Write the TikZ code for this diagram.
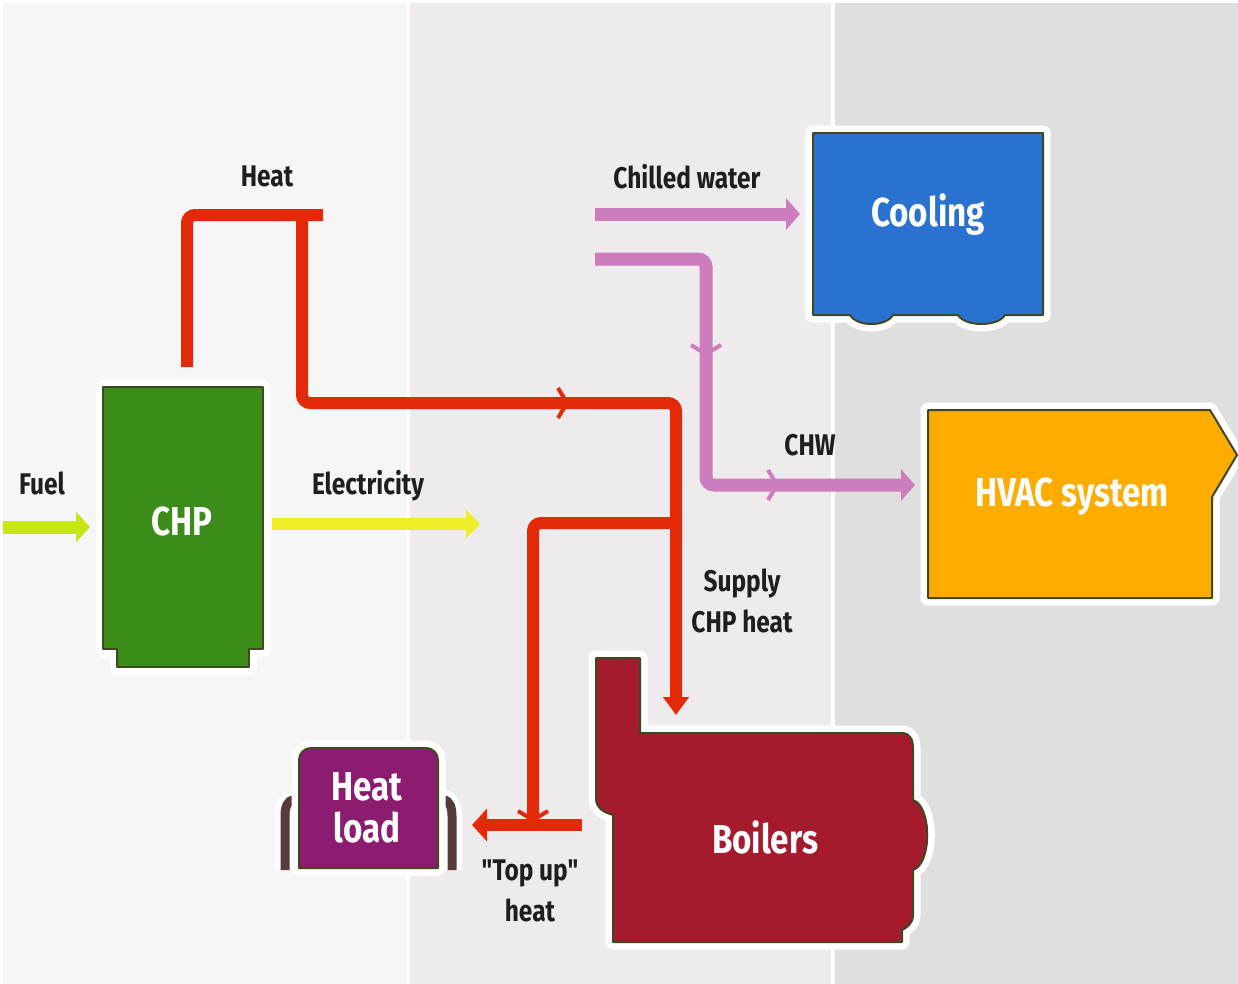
\documentclass[tikz,border=0pt]{standalone}
\usepackage{fontspec}
\newfontfamily\dinfont{Fira Sans}[FakeStretch=0.82]
\usetikzlibrary{arrows.meta}
\definecolor{panelA}{RGB}{246,246,246}
\definecolor{panelB}{RGB}{239,235,236}
\definecolor{panelC}{RGB}{224,223,224}
\definecolor{unitedge}{RGB}{62,72,32}
\definecolor{chpgreen}{RGB}{60,140,25}
\definecolor{coolblue}{RGB}{42,114,208}
\definecolor{hvacorange}{RGB}{255,172,0}
\definecolor{boilerred}{RGB}{166,26,46}
\definecolor{loadpurple}{RGB}{140,28,112}
\definecolor{handlegrey}{RGB}{88,58,62}
\definecolor{heatred}{RGB}{226,42,8}
\definecolor{chwpink}{RGB}{205,125,190}
\definecolor{fuellime}{RGB}{200,230,20}
\definecolor{elecyellow}{RGB}{240,238,40}
\definecolor{labelgrey}{RGB}{30,30,30}
\begin{document}
\begin{tikzpicture}[x=0.02cm, y=-0.02cm]
\tikzset{
  unit/.style={draw=unitedge, line width=0.04cm, line join=round, preaction={draw=white, line width=0.3cm, line join=round}},
  boxtext/.style={text=white, font=\dinfont\bfseries\fontsize{23}{24}\selectfont, align=center, inner sep=0pt},
  flowtext/.style={text=labelgrey, font=\dinfont\bfseries\fontsize{17}{23}\selectfont, align=center, inner sep=0pt},
  pipe/.style={line width=0.24cm, rounded corners=0.16cm},
  heatpipe/.style={pipe, draw=heatred},
  chwpipe/.style={pipe, draw=chwpink, line width=0.26cm},
  handle/.style={draw=handlegrey, line width=0.18cm, preaction={draw=white, line width=0.4cm}}
}
\newcommand{\drawbarb}[4]{
  \draw[#4, line width=0.08cm, rotate around={#3:(#1,#2)}] (#1-9,#2-15) -- (#1,#2) -- (#1-9,#2+15);
}
\useasboundingbox (0,0) rectangle (1238,984);
\clip (0,0) rectangle (1238,984);
\fill[white] (0,0) rectangle (1238,984);
\foreach \xa/\xb/\shade in {3/406/panelA, 410/831/panelB, 835/1238/panelC} {
  \fill[\shade] (\xa,3) rectangle (\xb,984);
}
\draw[unit, fill=chpgreen] (103,387) -- (263,387) -- (263,649) -- (249,649) -- (249,667) -- (117,667) -- (117,649) -- (103,649) -- cycle;
\node[boxtext] (chp) at (182,521) {CHP};
\draw[unit, fill=coolblue] (813,133) -- (1043,133) -- (1043,315) -- (1005,315) .. controls (998,327) and (965,327) .. (958,315) -- (893,315) .. controls (886,327) and (857,327) .. (850,315) -- (813,315) -- cycle;
\node[boxtext] (cooling) at (928,215) {Cooling};
\draw[unit, fill=hvacorange] (928,410) -- (1210,410) -- (1237,455) -- (1212,497) -- (1212,598) -- (928,598) -- cycle;
\node[boxtext] (hvac) at (1072,497) {HVAC system};
\draw[unit, fill=boilerred] (596,658) -- (640,658) -- (640,733) -- (902,733) .. controls (910,733) and (913,740) .. (913,748) -- (913,800) .. controls (932,806) and (932,864) .. (913,870) -- (913,915) .. controls (913,924) and (906,928) .. (902,930) -- (902,942) -- (613,942) -- (613,815) .. controls (603,812) and (596,808) .. (596,798) -- cycle;
\node[boxtext] (boilers) at (765,837) {Boilers};
\draw[handle] (300,800) -- (294,800) .. controls (287,800) and (285,808) .. (285,816) -- (285,870);
\draw[handle] (437,800) -- (443,800) .. controls (450,800) and (452,808) .. (452,816) -- (452,870);
\draw[unit, fill=loadpurple] (299,868) -- (299,760) arc[start angle=180, end angle=90, radius=0.24cm] -- (426,748) arc[start angle=90, end angle=0, radius=0.24cm] -- (438,868) -- cycle;
\node[boxtext] (heatload) at (367,808) {Heat\\load};
\coordinate (fuelin) at (3,527);
\coordinate (fuelout) at (90,527);
\coordinate (elecin) at (272,524);
\coordinate (elecout) at (480,524);
\coordinate (chpheat) at (187,367);
\coordinate (heatend) at (323,215);
\coordinate (heatdrop) at (302,209);
\coordinate (supplytee) at (676,523);
\coordinate (boilerin) at (676,715);
\coordinate (topupfoot) at (533,825);
\coordinate (topupin) at (582,825);
\coordinate (loadin) at (472,825);
\coordinate (chillin) at (595,214);
\coordinate (coolin) at (800,214);
\coordinate (chwin) at (595,259);
\coordinate (chwcorner) at (706,485);
\coordinate (hvacin) at (915,485);
\draw[line width=0.26cm, draw=fuellime, -{Triangle[length=0.28cm,width=0.6cm]}] (fuelin) -- (fuelout);
\draw[line width=0.24cm, draw=elecyellow, -{Triangle[length=0.28cm,width=0.56cm]}] (elecin) -- (elecout);
\draw[heatpipe] (chpheat) |- (heatend);
\draw[heatpipe, -{Triangle[length=0.36cm,width=0.5cm]}] (heatdrop) |- (676,403) -- (boilerin);
\draw[heatpipe] (supplytee) -| (topupfoot);
\draw[heatpipe, -{Triangle[length=0.3cm,width=0.64cm]}] (topupin) -- (loadin);
\draw[chwpipe, -{Triangle[length=0.28cm,width=0.62cm]}] (chillin) -- (coolin);
\draw[chwpipe, -{Triangle[length=0.28cm,width=0.62cm]}] (chwin) -| (chwcorner) -- (hvacin);
\drawbarb{567}{403}{0}{heatred}
\drawbarb{533}{820}{-90}{heatred}
\drawbarb{706}{354}{-90}{chwpink}
\drawbarb{777}{485}{0}{chwpink}
\node[flowtext] (fuellabel) at (42,483) {Fuel};
\node[flowtext] (heatlabel) at (267,176) {Heat};
\node[flowtext] (eleclabel) at (368,486) {Electricity};
\node[flowtext] (chilledlabel) at (687,177) {Chilled water};
\node[flowtext] (chwlabel) at (810,445) {CHW};
\node[flowtext] (supplylabel) at (742,601) {Supply\\CHP heat};
\node[flowtext] (topuplabel) at (530,891) {"Top up"\\heat};
\end{tikzpicture}
\end{document}
